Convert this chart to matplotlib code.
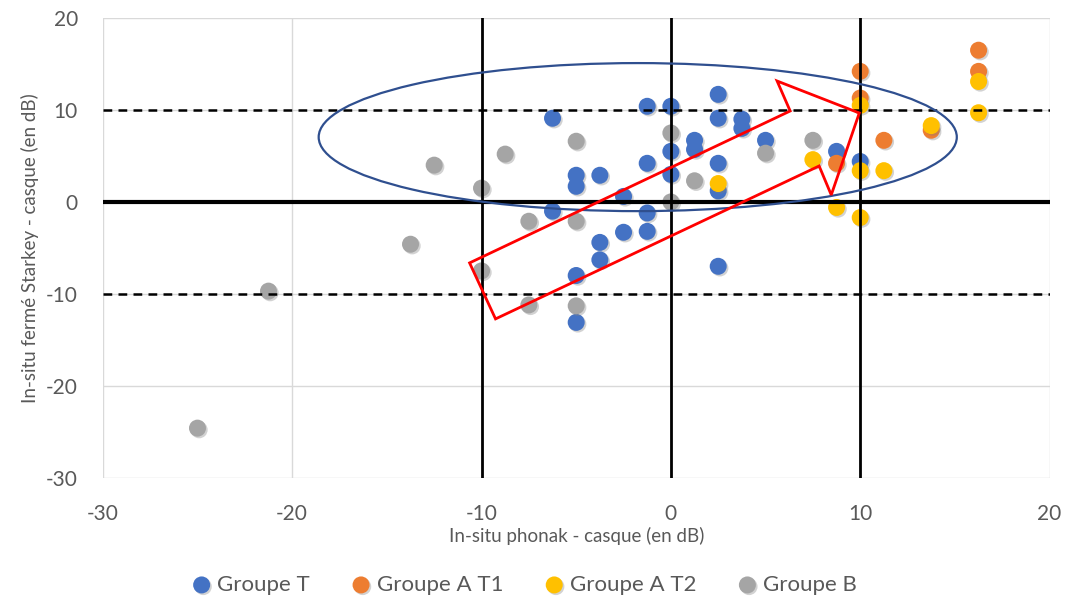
import matplotlib
matplotlib.use("Agg")
import matplotlib.pyplot as plt
from matplotlib.patches import Ellipse, Polygon
import matplotlib.patheffects as pe

plt.rcParams["font.family"] = ["Lato", "DejaVu Sans"]
plt.rcParams["axes.unicode_minus"] = False

# data (dB)
t_x = [-6.25, -1.25, 0, 2.5, 2.5, 3.75, 3.75, 1.25, 1.25, 0, -1.25, 2.5, -5, -5, -3.75,
       -2.5, -6.25, -1.25, -1.25, -2.5, -3.75, -3.75, -5, -5, 2.5, 5, 8.75, 10, 0, 2.5]
t_y = [9.1, 10.4, 10.4, 11.7, 9.1, 9.0, 8.0, 6.7, 5.7, 5.5, 4.2, 4.2, 2.9, 1.7, 2.9,
       0.6, -1.0, -1.2, -3.2, -3.3, -4.4, -6.3, -8.0, -13.1, -7.0, 6.7, 5.5, 4.4, 3.0, 1.2]
a1_x = [16.25, 16.25, 13.75, 10, 10, 11.25, 8.75]
a1_y = [16.5, 14.2, 7.8, 14.2, 11.3, 6.7, 4.2]
a2_x = [16.25, 16.25, 13.75, 10, 11.25, 10, 7.5, 8.75, 10, 2.5]
a2_y = [13.1, 9.7, 8.3, 10.5, 3.4, 3.4, 4.6, -0.6, -1.7, 2.0]
b_x = [-8.75, -5, -10, 0, 1.25, 0, -7.5, -5, -10, -7.5, -5, -12.5, -13.75, -21.25, -25, 7.5, 5]
b_y = [5.2, 6.6, 1.5, 7.5, 2.3, 0, -2.1, -2.1, -7.5, -11.2, -11.3, 4.0, -4.6, -9.7, -24.6, 6.7, 5.3]

series = [("Groupe T", t_x, t_y, "#4472C4"),
          ("Groupe A T1", a1_x, a1_y, "#ED7D31"),
          ("Groupe A T2", a2_x, a2_y, "#FFC000"),
          ("Groupe B", b_x, b_y, "#A5A5A5")]

fig = plt.figure(figsize=(10.71, 6.01), dpi=100)
ax = fig.add_axes([0.096, 0.205, 0.884, 0.765])
ax.set_xlim(-30, 20)
ax.set_ylim(-30, 20)
ax.set_xticks(range(-30, 21, 10))
ax.set_yticks(range(-30, 21, 10))
for s in ax.spines.values():
    s.set_visible(False)
ax.grid(True, color="#D9D9D9", linewidth=1.0)
ax.set_axisbelow(True)
ax.tick_params(length=0, labelsize=15, colors="#595959")
ax.tick_params(axis="x", pad=19)
ax.tick_params(axis="y", pad=18)

shadow = [pe.SimplePatchShadow(offset=(1.2, -1.2), alpha=0.35, shadow_rgbFace="#808080"), pe.Normal()]
for name, xs, ys, col in series:
    sc = ax.scatter(xs, ys, s=150, color=col, label=name, zorder=3, linewidths=0)
    sc.set_path_effects(shadow)

# reference lines
for xv in (-10, 0, 10):
    ax.axvline(xv, color="black", linewidth=2, zorder=4)
ax.axhline(0, color="black", linewidth=3, zorder=4)
for yv in (10, -10):
    ax.axhline(yv, color="black", linewidth=1.8, linestyle=(0, (3.5, 2.5)), zorder=4)

# annotations
ax.add_patch(Ellipse((-1.75, 7.05), 33.7, 16.1, fill=False, edgecolor="#2F4F8F",
                     linewidth=1.6, zorder=5))
arrow = [(-10.63, -6.63), (6.30, 9.89), (5.61, 13.15), (9.95, 9.67),
         (8.47, 0.76), (7.83, 3.91), (-9.26, -12.72)]
ax.add_patch(Polygon(arrow, closed=True, fill=False, edgecolor="#FF0000",
                     linewidth=2, zorder=6))

ax.set_xlabel("In-situ phonak - casque (en dB)", fontsize=13.5, color="#595959", labelpad=2)
ax.set_ylabel("In-situ fermé Starkey - casque (en dB)", fontsize=13.5, color="#595959", labelpad=5)

leg = fig.legend(loc="center", bbox_to_anchor=(0.49, 0.027), ncol=4, frameon=False,
                 fontsize=16, handlelength=0.8, handletextpad=0.3, columnspacing=1.9,
                 markerscale=1.0)
for t in leg.get_texts():
    t.set_color("#595959")

fig.savefig("out.png", dpi=100)
